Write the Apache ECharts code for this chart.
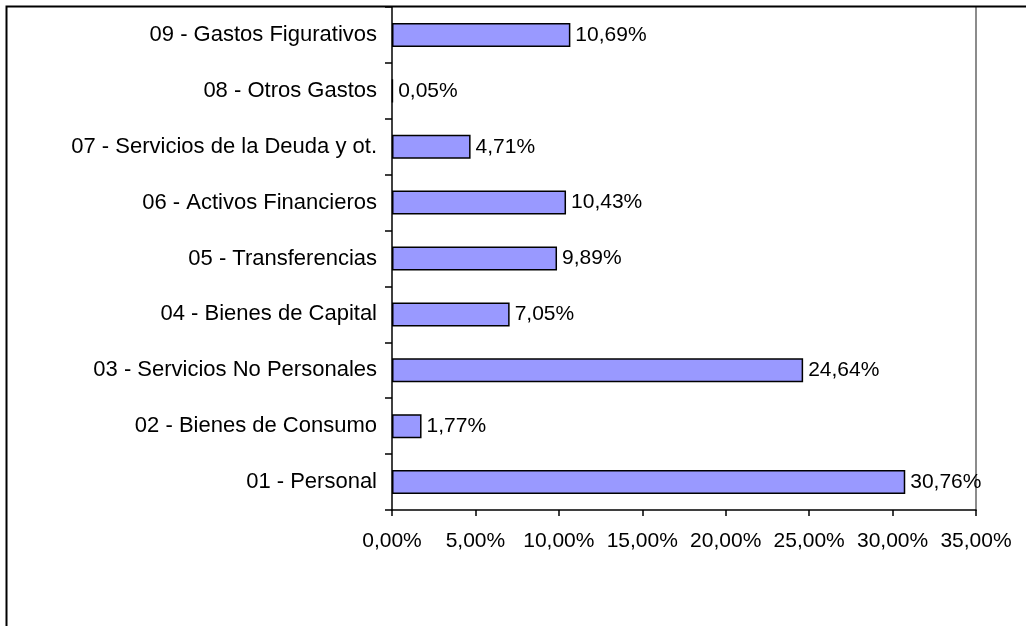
<!DOCTYPE html>
<html>
<head>
<meta charset="utf-8">
<script src="https://cdn.jsdelivr.net/npm/echarts@6/dist/echarts.min.js"></script>
<style>
  html, body { margin: 0; padding: 0; background: #fff; }
  #chart { width: 1026px; height: 626px; }
</style>
</head>
<body>
<div id="chart"></div>
<script>
var categories = [
  '01 - Personal',
  '02 - Bienes de Consumo',
  '03 - Servicios No Personales',
  '04 - Bienes de Capital',
  '05 - Transferencias',
  '06 - Activos Financieros',
  '07 - Servicios de la Deuda y ot.',
  '08 - Otros Gastos',
  '09 - Gastos Figurativos'
];
var shares = [30.76, 1.77, 24.64, 7.05, 9.89, 10.43, 4.71, 0.05, 10.69];
var axisMin = 0, axisMax = 35, axisStep = 5;

function pct(v) {
  return v.toFixed(2).replace('.', ',') + '%';
}

var font = 'Liberation Sans, Arial, sans-serif';

echarts.init(document.querySelector('#chart')).setOption({
  animation: false,
  backgroundColor: '#fff',
  graphic: [{
    type: 'rect',
    shape: { x: 6.5, y: 6.5, width: 1100, height: 700 },
    style: { fill: 'none', stroke: '#000', lineWidth: 2 },
    z: 100
  }],
  grid: { left: 392, right: 50, top: 7, bottom: 116 },
  xAxis: {
    type: 'value',
    min: axisMin,
    max: axisMax,
    interval: axisStep,
    axisLine: { show: true, lineStyle: { color: '#000', width: 1.5 } },
    axisTick: { show: true, length: 6, lineStyle: { color: '#000', width: 1.5 } },
    splitLine: { show: false },
    axisLabel: {
      margin: 21,
      color: '#000',
      fontSize: 21,
      fontFamily: font,
      formatter: function (v) { return pct(v); }
    }
  },
  yAxis: [{
    type: 'category',
    data: categories,
    axisLine: { show: true, lineStyle: { color: '#000', width: 1.5 } },
    axisTick: { show: true, length: 7, lineStyle: { color: '#000', width: 1.5 } },
    axisLabel: { margin: 15, color: '#000', fontSize: 22, fontFamily: font }
  }, {
    type: 'category',
    data: categories,
    position: 'right',
    axisLine: { show: true, lineStyle: { color: '#8c8c8c', width: 2 } },
    axisTick: { show: false },
    axisLabel: { show: false }
  }],
  series: [{
    type: 'bar',
    data: shares,
    barWidth: 24,
    itemStyle: { color: '#9999FF', borderColor: '#000', borderWidth: 1.5 },
    label: {
      show: true,
      position: 'right',
      distance: 5,
      color: '#000',
      fontSize: 21,
      fontFamily: font,
      formatter: function (p) { return pct(p.value); }
    }
  }]
});
</script>
</body>
</html>
